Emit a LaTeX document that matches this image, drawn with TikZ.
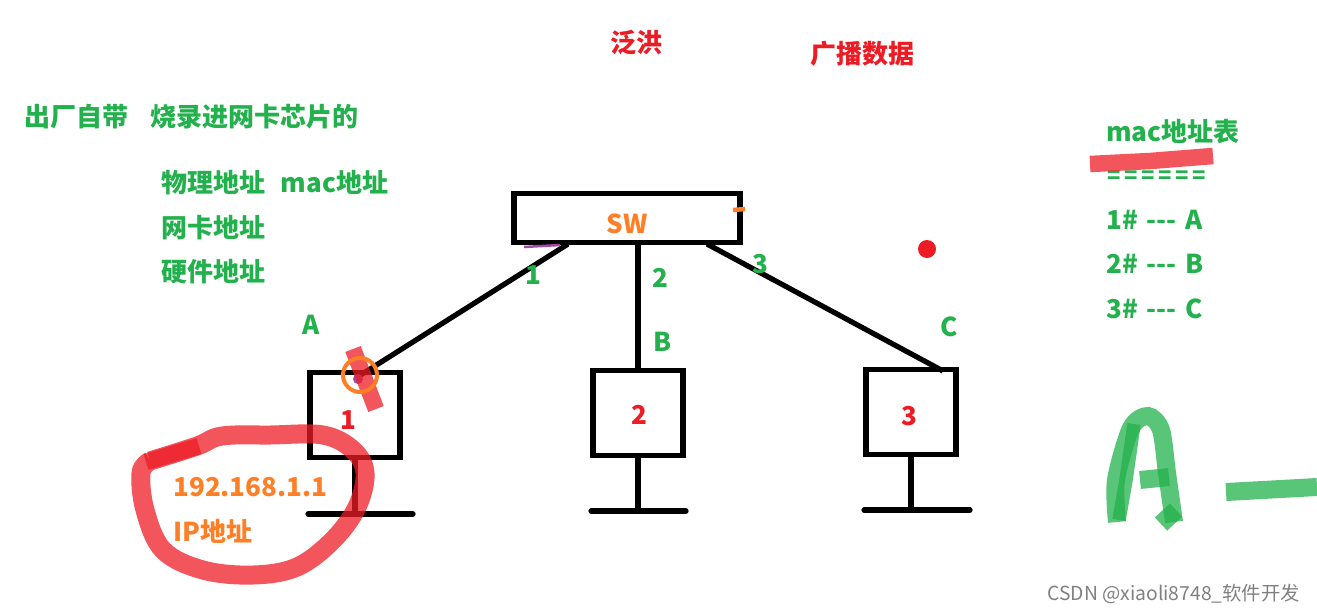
\documentclass[tikz,border=0pt]{standalone}
\usepackage{fontspec}
\setmainfont{Noto Sans CJK SC}
\usetikzlibrary{positioning}
\definecolor{pgreen}{RGB}{34,177,76}
\definecolor{porange}{RGB}{255,127,39}
\definecolor{pred}{RGB}{237,28,36}
\definecolor{ppurple}{RGB}{163,73,164}
\begin{document}
\begin{tikzpicture}[
x=0.02cm,y=-0.02cm,
font=\fontsize{14.8pt}{17pt}\bfseries,
greentext/.style={text=pgreen,inner sep=0pt,anchor=west},
greenlabel/.style={text=pgreen,inner sep=0pt},
redlabel/.style={text=pred,inner sep=0pt},
orangetext/.style={text=porange,inner sep=0pt,anchor=west},
hostbox/.style={draw=black,line width=0.105cm,outer sep=0pt,minimum width=1.8cm,minimum height=1.7cm},
wire/.style={black,line width=0.105cm},
marker/.style={pred,opacity=0.75,line width=0.33cm},
ringmarker/.style={pred,opacity=0.75,line width=0.38cm},
greenmarker/.style={pgreen,opacity=0.75,line width=0.36cm}
]
    \useasboundingbox (0,0) rectangle (1317,613);

    % Switch and hosts
    \node (sw) [draw=black,line width=0.115cm,outer sep=0pt,minimum width=4.52cm,minimum height=0.98cm] at (627,218) {};
    \node (swtext) [text=porange,inner sep=0pt] at (627,224) {SW};
    \node (host1) [hostbox] at (355,415) {};
    \node (host2) [hostbox] at (638,413) {};
    \node (host3) [hostbox] at (911,412) {};

    \draw
    (568,244) coordinate (port1)
    (707,244) coordinate (port3)
    (359,376) coordinate (top1)
    (943,371) coordinate (top3)
    (308,514) coordinate (base1l)
    (413,514) coordinate (base1r)
    (591,511) coordinate (base2l)
    (686,511) coordinate (base2r)
    (864,510) coordinate (base3l)
    (970,510) coordinate (base3r);

    % Draw wires
    \draw[wire] (port1) -- (top1);
    \draw[wire] (sw.south -| host2.north) -- (host2.north);
    \draw[wire] (port3) -- (top3);
    \draw[wire] (host1.south) -- (host1.south |- base1l);
    \draw[wire] (host2.south) -- (host2.south |- base2l);
    \draw[wire] (host3.south) -- (host3.south |- base3l);
    \draw[wire,line cap=round] (base1l) -- (base1r);
    \draw[wire,line cap=round] (base2l) -- (base2r);
    \draw[wire,line cap=round] (base3l) -- (base3r);

    % Red and green texts
    \node (flood) [redlabel] at (636,43) {泛洪};
    \node (bcast) [redlabel] at (862,54) {广播数据};
    \node (burn) [greentext] at (24,117) {出厂自带\hspace{0.85em}烧录进网卡芯片的};
    \node (phys) [greentext] at (161,183) {物理地址\hspace{0.6em}mac地址};
    \node (nic) [greentext] at (161,228) {网卡地址};
    \node (hw) [greentext] at (161,272) {硬件地址};

    \node (lab1) [greenlabel] at (533,275) {1};
    \node (lab2) [greenlabel] at (660,278) {2};
    \node (lab3) [greenlabel] at (760,264) {3};
    \node (laba) [greenlabel] at (311,325) {A};
    \node (labb) [greenlabel] at (663,342) {B};
    \node (labc) [greenlabel] at (949,327) {C};
    \node (num1) [redlabel] at (348,420) {1};
    \node (num2) [redlabel] at (639,415) {2};
    \node (num3) [redlabel] at (909,416) {3};

    \node (ip) [orangetext] at (173,487) {192.168.1.1};
    \node (iptext) [orangetext] at (173,531) {IP地址};

    % Mac table
    \node (mac) [greentext] at (1106,132) {mac地址表};
    \node (eqs) [greentext,font=\fontsize{12.5pt}{14pt}\bfseries] at (1107,177) {=\,=\,=\,=\,=\,=};
    \node (row1) [greentext] at (1106,220) {1\#\hspace{0.1em} -\/-\/-\hspace{0.12em} A};
    \node (row2) [greentext] at (1106,264) {2\#\hspace{0.1em} -\/-\/-\hspace{0.12em} B};
    \node (row3) [greentext] at (1106,309) {3\#\hspace{0.1em} -\/-\/-\hspace{0.12em} C};

    % Marks
    \fill[pred] (927,249) circle (9);
    \draw[porange,line width=0.09cm] (733,210) -- (745,209);
    \draw[ppurple,line width=0.05cm] (524,247) -- (560,245);
    \fill[ppurple] (358,379) circle (5);
    \draw[marker] (353,349) -- (376,409);
    \draw[porange,line width=0.08cm] (360,375) circle (17);

    \draw[ringmarker] plot[smooth,tension=0.6] coordinates {
      (150,461) (141,473) (145,510) (163,550) (203,570) (253,575) (297,567)
      (333,540) (357,507) (365,473) (353,450) (323,435) (270,435) (222,436) (197,446) (150,461)};
    \draw[marker] (146,462) -- (199,446);
    \draw[marker] (1090,164) -- (1150,161) -- (1213,156);

    % Big green A
    \draw[greenmarker] plot[smooth,tension=0.5] coordinates {
      (1117,522) (1116,480) (1131,428) (1148,416) (1161,430) (1167,473) (1174,522)};
    \draw[greenmarker,line width=0.27cm] (1119,520) -- (1126,480) -- (1134,424);
    \draw[greenmarker] (1140,480) -- (1169,477);
    \draw[greenmarker] (1161,524) -- (1176,510);
    \draw[greenmarker] (1226,492) -- (1317,487);

    \node (csdn) [text=gray,inner sep=0pt,anchor=west,font=\fontsize{11pt}{13pt}\selectfont] at (1047,594) {CSDN @xiaoli8748\_软件开发};
\end{tikzpicture}
\end{document}
